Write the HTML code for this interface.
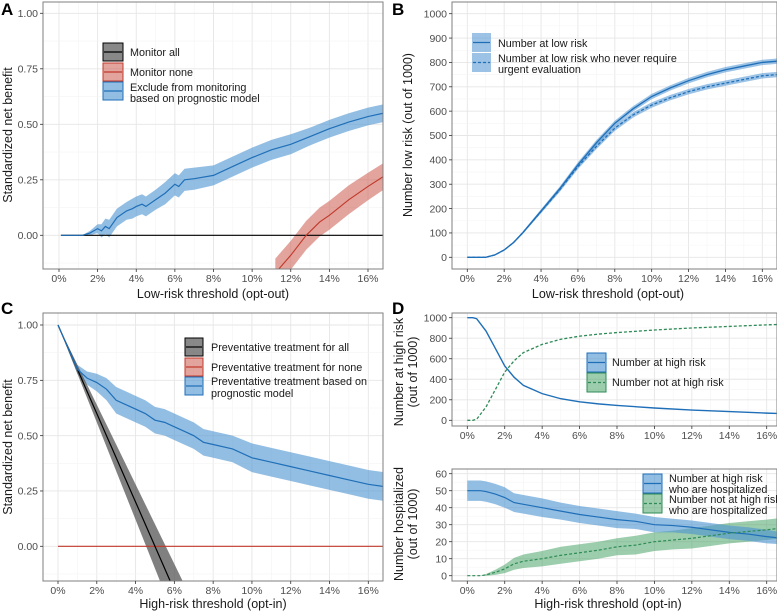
<!DOCTYPE html>
<html><head><meta charset="utf-8"><style>
html,body{margin:0;padding:0;background:#fff;}
svg{display:block;font-family:"Liberation Sans",sans-serif;}
</style></head><body>
<svg id="fig" width="777" height="612" viewBox="0 0 777 612" xmlns="http://www.w3.org/2000/svg"></svg>
<script>
// ---- Panel A data ----
const aX = [0.1,1.2,1.6,2.0,2.2,2.4,2.6,3.0,3.5,3.8,4.0,4.3,4.5,5.0,5.5,6.0,6.2,6.5,7,8,9,10,11,12,13,14,15,16,16.8];
const aModel = [0,0,0.01,0.03,0.02,0.04,0.03,0.08,0.11,0.12,0.13,0.14,0.13,0.16,0.19,0.23,0.22,0.25,0.255,0.27,0.31,0.35,0.385,0.41,0.445,0.48,0.51,0.535,0.55];
const aModelHalf = [0,0,0.01,0.02,0.03,0.035,0.04,0.04,0.04,0.045,0.045,0.045,0.045,0.045,0.05,0.05,0.05,0.05,0.05,0.045,0.045,0.045,0.045,0.045,0.04,0.04,0.04,0.04,0.04];
const aNoneX = [11.2,12,12.8,13.5,14,15,16,16.8];
const aNone = [-0.17,-0.09,0,0.06,0.09,0.16,0.22,0.265];
const aNoneHalf = [0.065,0.065,0.065,0.065,0.065,0.065,0.062,0.06];
const aAllX = [0.1,16.8];
const aAll = [0,0];
// ---- Panel B data ----
const bX = [0,1,1.5,2,2.5,3,4,5,6,7,8,9,10,11,12,13,14,15,16,16.8];
const bLow = [0,0,10,30,60,100,190,280,380,470,550,610,660,695,725,750,770,785,800,805];
const bNever = [0,0,10,30,60,100,188,276,372,455,530,585,625,655,680,700,715,730,745,750];
const bHalf = [0,0,2,3,4,5,7,9,10,11,11,11,11,11,11,11,11,11,11,11];
// ---- Panel C data ----
const cX = [0,1,1.5,2,2.5,3,3.5,4,4.5,5,5.5,6,6.5,7,7.5,8,9,10,11,12,13,14,15,16,16.8];
const cModel = [1,0.8,0.76,0.74,0.71,0.66,0.64,0.62,0.6,0.57,0.56,0.54,0.52,0.5,0.47,0.46,0.44,0.4,0.38,0.36,0.34,0.32,0.3,0.28,0.27];
const cModelHalf = [0,0.02,0.03,0.04,0.05,0.06,0.06,0.06,0.06,0.06,0.06,0.06,0.06,0.06,0.06,0.06,0.06,0.065,0.065,0.065,0.065,0.065,0.065,0.065,0.065];
const cAllX = [0,6.5];
const cAll = [1,-0.3];
const cAllHalf = [0,0.13];
const cNoneX = [0,16.8];
const cNone = [0,0];
// ---- Panel D data ----
const dX = [0,0.3,0.5,1,1.5,2,2.5,3,4,5,6,7,8,10,12,14,16,16.8];
const dHigh = [1000,1000,990,870,700,530,420,340,260,210,180,160,145,120,100,85,70,65];
const dNotHigh = [0,0,10,130,300,470,580,660,740,790,820,840,855,880,900,915,930,935];
const hX = [0,0.7,1,1.5,2,2.5,3,4,5,6,7,8,9,10,11,12,13,14,15,16,16.8];
const hHosp = [50,50,49.5,48,46,43,42,40,38,36,34.5,33,32,30,29.5,28.5,27,25.5,24.5,23,22];
const hHospHalf = [6,6,6,6,6,5.5,5.5,5.5,5,5,5,5,4.5,4.5,4,4,4,4,4,4,3.5];
const gHosp = [0,0,0.5,2,4,7,8.5,10,12,13.5,15,17,18,20,21,22,23.5,25,26,27,28];
const gHospHalf = [0,0,0.5,1.5,2.5,3.5,4,4.5,5,5,5,5,5.5,5.5,5.5,6,6,6,6,6,6];
// ---- tick labels ----
const xTicks = [0,2,4,6,8,10,12,14,16];
const xTickLabels = ["0%","2%","4%","6%","8%","10%","12%","14%","16%"];
const nbTicks = [0,0.25,0.5,0.75,1];
const nbTickLabels = ["0.00","0.25","0.50","0.75","1.00"];
const bTicks = [0,100,200,300,400,500,600,700,800,900,1000];
const dTopTicks = [0,200,400,600,800,1000];
const dBotTicks = [0,10,20,30,40,50,60];

const NS = "http://www.w3.org/2000/svg";
const svg = document.getElementById("fig");
const BLUE="#1f6fb8", BLUEF="#4b92d1", RED="#c0392b", REDF="#cc5a4c", GRAYF="#555", GREEN="#2e8b57", GREENF="#4aa468";

function mk(tag, attrs, parent){const e=document.createElementNS(NS,tag);for(const k in attrs)e.setAttribute(k,attrs[k]);(parent||svg).appendChild(e);return e;}

function makePanel(id,L,R,T,B,x0px,x16px,yv0,ypx0,yv1,ypx1){
  const p={L,R,T,B};
  p.sx=v=>x0px+(v/16)*(x16px-x0px);
  p.sy=v=>ypx0+(v-yv0)/(yv1-yv0)*(ypx1-ypx0);
  const g=mk("g",{});
  
  
  p.g=g;
  const cp=mk("clipPath",{id:"clip-"+id},g);
  mk("rect",{x:L,y:T,width:R-L,height:B-T},cp);
  p.bg=mk("g",{},g);
  p.marks=mk("g",{"clip-path":"url(#clip-"+id+")"},g);
  p.top=mk("g",{},g);
  return p;
}
function grid(p,yt,ystep){
  for(let v=-1;v<=17;v+=1){const x=p.sx(v);if(x<p.L||x>p.R)continue;
    const l=mk("line",{x1:x,x2:x,y1:p.T,y2:p.B,stroke:v%2? "#f4f4f4":"#e6e6e6","stroke-width":v%2?0.6:0.9},p.bg);
    
    }
  for(let v=yt[0]-ystep;v<=yt[yt.length-1]+ystep;v+=ystep/2){const y=p.sy(v);if(y<p.T||y>p.B)continue;
    const major=yt.some(t=>Math.abs(t-v)<1e-9);
    const l=mk("line",{x1:p.L,x2:p.R,y1:y,y2:y,stroke:major?"#e6e6e6":"#f4f4f4","stroke-width":major?0.9:0.6},p.bg);
    
    }
}
function axes(p,yt,ylab,fmt){
  const r=mk("rect",{x:p.L,y:p.T,width:p.R-p.L,height:p.B-p.T,fill:"none",stroke:"#7f7f7f","stroke-width":1},p.top);
  
  
  xTicks.forEach((v,i)=>{const x=p.sx(v);
    mk("line",{x1:x,x2:x,y1:p.B,y2:p.B+3,stroke:"#333","stroke-width":0.8},p.top);
    const t=mk("text",{x:x,y:p.B+13,"text-anchor":"middle","font-size":10.5,fill:"#4d4d4d"},p.top);t.textContent=xTickLabels[i];
    
    });
  yt.forEach((v,i)=>{const y=p.sy(v);
    mk("line",{x1:p.L-3,x2:p.L,y1:y,y2:y,stroke:"#333","stroke-width":0.8},p.top);
    const t=mk("text",{x:p.L-5,y:y+3.7,"text-anchor":"end","font-size":10.5,fill:"#4d4d4d"},p.top);t.textContent=fmt?fmt[i]:String(v);
    
    });
}
function band(p,xs,ys,half,fill,op,name){
  let d="";xs.forEach((x,i)=>{d+=(i?"L":"M")+p.sx(x).toFixed(2)+","+p.sy(ys[i]+half[i]).toFixed(2);});
  for(let i=xs.length-1;i>=0;i--)d+="L"+p.sx(xs[i]).toFixed(2)+","+p.sy(ys[i]-half[i]).toFixed(2);
  const e=mk("path",{d:d+"Z",fill:fill,"fill-opacity":op,stroke:"none"},p.marks);
  
  
}
function line(p,xs,ys,color,dash,name,w){
  const pts=xs.map((x,i)=>p.sx(x).toFixed(2)+","+p.sy(ys[i]).toFixed(2)).join(" ");
  const e=mk("polyline",{points:pts,fill:"none",stroke:color,"stroke-width":w||1.3,"stroke-dasharray":dash||"none"},p.marks);
  
  
}
function text(x,y,s,size,opts){const t=mk("text",Object.assign({x:x,y:y,"font-size":size,fill:"#1a1a1a"},opts||{}));t.textContent=s;return t;}
function legendKey(x,y,w,h,fill,op,stroke,lineColor,dash,name){
  const g=mk("g",{});
  
  
  mk("rect",{x:x,y:y,width:w,height:h,fill:fill,"fill-opacity":op,stroke:stroke,"stroke-width":stroke==="none"?0:1},g);
  mk("line",{x1:x+1,x2:x+w-1,y1:y+h/2,y2:y+h/2,stroke:lineColor,"stroke-width":1.2,"stroke-dasharray":dash||"none"},g);
}
function panelLabel(x,y,s){const t=text(x,y,s,17,{"font-weight":"bold",fill:"#000"});
  
  }
function ytitle(x,y,s){const t=text(x,y,s,12.5,{"text-anchor":"middle",transform:"rotate(-90 "+x+" "+y+")"});
  
  }
function xtitle(x,y,s){const t=text(x,y,s,12.5,{"text-anchor":"middle"});
  
  }
function ltext(x,y,s){const t=text(x,y,s,10.8);
  
  }

// ---- Panel A ----
const A=makePanel("a",43,383,2,269,59,368,0,235.3,1,13.3);
grid(A,nbTicks,0.25);
band(A,aX,aModel,aModelHalf,BLUEF,0.6,"model-ci-band");
band(A,aNoneX,aNone,aNoneHalf,REDF,0.55,"monitor-none-ci-band");
line(A,aAllX,aAll,"#000",null,"monitor-all-line",1.2);
line(A,aNoneX,aNone,RED,null,"monitor-none-line",1.1);
line(A,aX,aModel,BLUE,null,"model-line",1.2);
axes(A,nbTicks,"",nbTickLabels);
panelLabel(1,15,"A");
ytitle(12,135,"Standardized net benefit");
xtitle(213,298,"Low-risk threshold (opt-out)");
legendKey(103,43,20,18,GRAYF,0.7,"#000","#000",null,"legend-key-monitor-all");
legendKey(103,63,20,18,REDF,0.55,RED,RED,null,"legend-key-monitor-none");
legendKey(103,82,20,18,BLUEF,0.6,BLUE,BLUE,null,"legend-key-model");
ltext(130,56,"Monitor all");
ltext(130,76,"Monitor none");
ltext(130,91,"Exclude from monitoring");
ltext(130,102,"based on prognostic model");

// ---- Panel B ----
const Bp=makePanel("b",452,777,2,269,467.3,762.3,0,257.3,1000,13.7);
grid(Bp,bTicks,100);
band(Bp,bX,bLow,bHalf,BLUEF,0.55,"low-risk-ci-band");
band(Bp,bX,bNever,bHalf,BLUEF,0.55,"never-urgent-ci-band");
line(Bp,bX,bLow,BLUE,null,"low-risk-line",1.3);
line(Bp,bX,bNever,BLUE,"3,2","never-urgent-line",1.3);
axes(Bp,bTicks,"");
panelLabel(392,15,"B");
ytitle(412,135,"Number low risk (out of 1000)");
xtitle(608,298,"Low-risk threshold (opt-out)");
legendKey(472,33,19,19,BLUEF,0.55,"none",BLUE,null,"legend-key-low-risk");
legendKey(472,53,19,19,BLUEF,0.55,"none",BLUE,"3,2","legend-key-never-urgent");
ltext(498,47,"Number at low risk");
ltext(498,62,"Number at low risk who never require");
ltext(498,73,"urgent evaluation");

// ---- Panel C ----
const C=makePanel("c",43,383,313,581,58,368.3,0,546.3,1,325);
grid(C,nbTicks,0.25);
band(C,cX,cModel,cModelHalf,BLUEF,0.6,"treat-model-ci-band");
band(C,cAllX,cAll,cAllHalf,GRAYF,0.75,"treat-all-ci-band");
line(C,cNoneX,cNone,RED,null,"treat-none-line",1.2);
line(C,cAllX,cAll,"#000",null,"treat-all-line",1.2);
line(C,cX,cModel,BLUE,null,"treat-model-line",1.2);
axes(C,nbTicks,"",nbTickLabels);
panelLabel(1,314,"C");
ytitle(12,447,"Standardized net benefit");
xtitle(213,608,"High-risk threshold (opt-in)");
legendKey(185,338,18,18,GRAYF,0.7,"#000","#000",null,"legend-key-treat-all");
legendKey(185,358,18,18,REDF,0.55,RED,RED,null,"legend-key-treat-none");
legendKey(185,377,18,18,BLUEF,0.6,BLUE,BLUE,null,"legend-key-treat-model");
ltext(211,351,"Preventative treatment for all");
ltext(211,371,"Preventative treatment for none");
ltext(211,385,"Preventative treatment based on");
ltext(211,397,"prognostic model");

// ---- Panel D top ----
const D1=makePanel("d-top",452,777,313,426,467.3,766.7,0,420.3,1000,317.7);
grid(D1,dTopTicks,200);
line(D1,dX,dHigh,BLUE,null,"high-risk-line",1.4);
line(D1,dX,dNotHigh,GREEN,"3,2","not-high-risk-line",1.3);
axes(D1,dTopTicks,"");
panelLabel(392,314,"D");
ytitle(403,372,"Number at high risk");
ytitle(417,372,"(out of 1000)");
legendKey(587,353,19,19,BLUEF,0.6,BLUE,BLUE,null,"legend-key-high-risk");
legendKey(587,373,19,19,GREENF,0.55,GREEN,GREEN,"3,2","legend-key-not-high-risk");
ltext(612,366,"Number at high risk");
ltext(612,386,"Number not at high risk");

// ---- Panel D bottom ----
const D2=makePanel("d-bottom",452,777,469,581,467.3,766.7,0,575.7,60,473.7);
grid(D2,dBotTicks,10);
band(D2,hX,gHosp,gHospHalf,GREENF,0.55,"not-high-hosp-ci-band");
band(D2,hX,hHosp,hHospHalf,BLUEF,0.6,"high-hosp-ci-band");
line(D2,hX,hHosp,BLUE,null,"high-hosp-line",1.2);
line(D2,hX,gHosp,GREEN,"3,2","not-high-hosp-line",1.2);
axes(D2,dBotTicks,"");
ytitle(403,524,"Number hospitalized");
ytitle(417,524,"(out of 1000)");
xtitle(608,608,"High-risk threshold (opt-in)");
legendKey(643,474,19,19,BLUEF,0.6,BLUE,BLUE,null,"legend-key-high-hosp");
legendKey(643,494,19,19,GREENF,0.55,GREEN,GREEN,"3,2","legend-key-not-high-hosp");
ltext(669,482,"Number at high risk");
ltext(669,493,"who are hospitalized");
ltext(669,503,"Number not at high risk");
ltext(669,514,"who are hospitalized");
</script>
</body></html>
